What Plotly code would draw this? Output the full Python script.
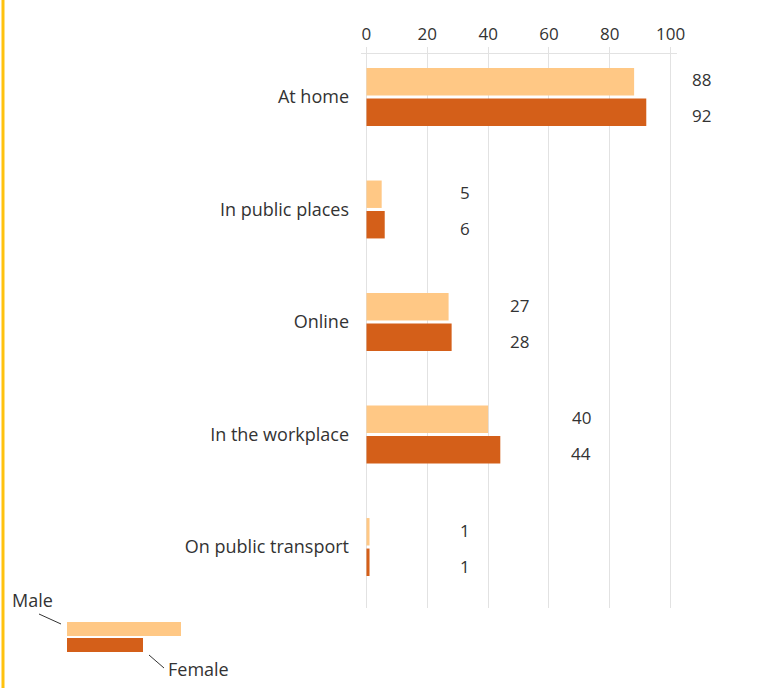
import plotly.graph_objects as go

# Data
categories = ["At home", "In public places", "Online", "In the workplace", "On public transport"]
male = [88, 5, 27, 40, 1]
female = [92, 6, 28, 44, 1]
x_ticks = [0, 20, 40, 60, 80, 100]

# where the value labels sit (x, in axis units)
label_x = [110.2, 32.3, 50.4, 70.6, 32.3]

COLOR_MALE = "#FFC885"
COLOR_FEMALE = "#D45F19"
TEXT = "#333333"
GRID = "#e2e2e2"
FONT = "Open Sans"

W, H = 761, 688
ML, MR, MT, MB = 361, 84, 54, 80
PW, PH = W - ML - MR, H - MT - MB
X_RANGE = [-1.8, 102.1]
Y_RANGE = [4.542, -0.382]


def px(x):
    return (x - ML) / PW


def py(y):
    return (H - MB - y) / PH


def xpaper(v):
    return (v - X_RANGE[0]) / (X_RANGE[1] - X_RANGE[0])


fig = go.Figure()
fig.add_trace(go.Bar(y=list(range(len(categories))), x=male, name="Male", orientation="h",
                     marker={"color": COLOR_MALE, "line": {"width": 0}}))
fig.add_trace(go.Bar(y=list(range(len(categories))), x=female, name="Female", orientation="h",
                     marker={"color": COLOR_FEMALE, "line": {"width": 0}}))

annotations = []
for i, (lx, m, f) in enumerate(zip(label_x, male, female)):
    annotations.append(dict(x=xpaper(lx), xref="paper", y=i, text=str(m), showarrow=False,
                            xanchor="center", yshift=17, font={"size": 17, "color": TEXT}))
    annotations.append(dict(x=xpaper(lx), xref="paper", y=i, text=str(f), showarrow=False,
                            xanchor="center", yshift=-19, font={"size": 17, "color": TEXT}))

# custom legend
annotations.append(dict(x=px(10), y=py(600), xref="paper", yref="paper", text="Male",
                        showarrow=False, xanchor="left", yanchor="middle",
                        font={"size": 18, "color": TEXT}))
annotations.append(dict(x=px(166), y=py(669), xref="paper", yref="paper", text="Female",
                        showarrow=False, xanchor="left", yanchor="middle",
                        font={"size": 18, "color": TEXT}))

shapes = [
    dict(type="rect", xref="paper", yref="paper", x0=px(67), x1=px(181), y0=py(636), y1=py(622),
         fillcolor=COLOR_MALE, line={"width": 0}),
    dict(type="rect", xref="paper", yref="paper", x0=px(67), x1=px(143), y0=py(652), y1=py(638),
         fillcolor=COLOR_FEMALE, line={"width": 0}),
    dict(type="line", xref="paper", yref="paper", x0=px(39), x1=px(61), y0=py(614), y1=py(624),
         line={"color": TEXT, "width": 1}),
    dict(type="line", xref="paper", yref="paper", x0=px(149), x1=px(164), y0=py(655), y1=py(668),
         line={"color": TEXT, "width": 1}),
    # left accent border
    dict(type="line", xref="paper", yref="paper", x0=px(3), x1=px(3), y0=py(0), y1=py(H),
         line={"color": "#FFC20E", "width": 3}),
]

fig.update_layout(
    width=W,
    height=H,
    margin={"l": ML, "r": MR, "t": MT, "b": MB},
    paper_bgcolor="white",
    plot_bgcolor="white",
    font={"family": FONT, "color": TEXT, "size": 16},
    barmode="group",
    bargap=0.458,
    bargroupgap=0.1,
    showlegend=False,
    annotations=annotations,
    shapes=shapes,
    xaxis={
        "side": "top",
        "range": X_RANGE,
        "tickvals": x_ticks,
        "showgrid": True,
        "gridcolor": GRID,
        "showline": True,
        "linecolor": GRID,
        "ticks": "outside",
        "ticklen": 6,
        "tickcolor": GRID,
        "zeroline": False,
        "tickfont": {"size": 17, "color": TEXT},
    },
    yaxis={
        "range": Y_RANGE,
        "tickvals": list(range(len(categories))),
        "ticktext": categories,
        "showgrid": False,
        "showline": False,
        "zeroline": False,
        "ticks": "",
        "ticklabelstandoff": 11,
        "tickfont": {"size": 18, "color": TEXT},
    },
)

fig.write_html("out.html", config={"displayModeBar": False},
               post_script="document.body.style.margin='0';")
